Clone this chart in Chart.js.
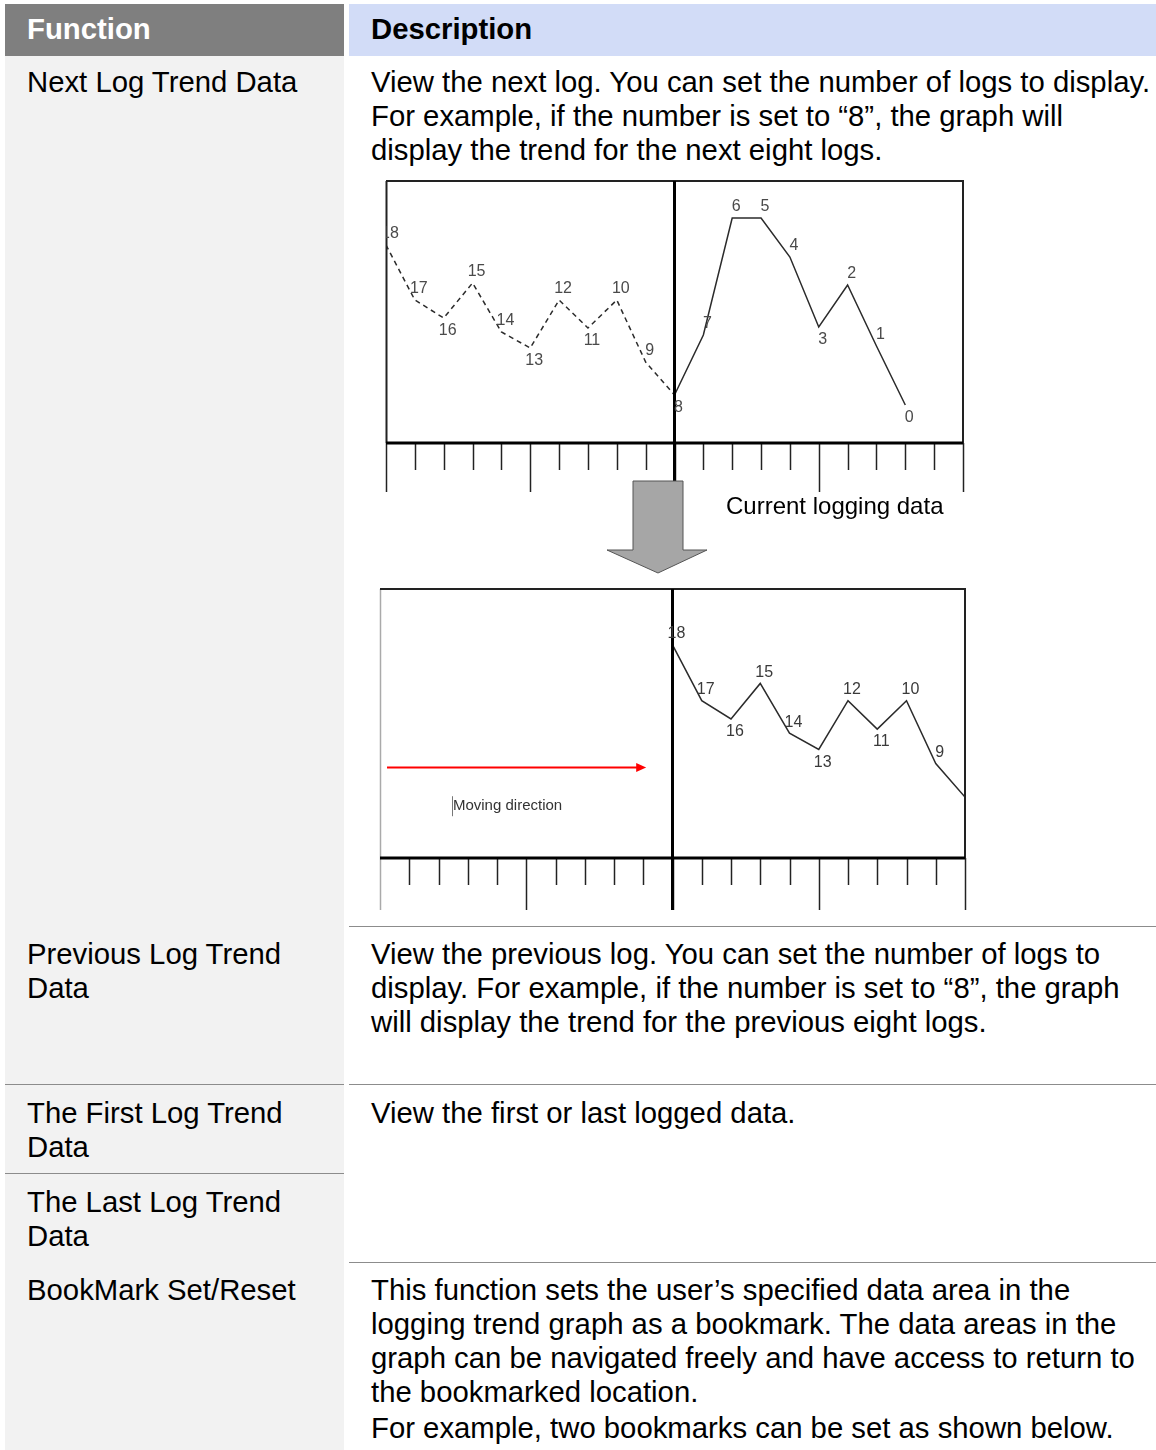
<!DOCTYPE html>
<html>
<head>
<meta charset="utf-8">
<script src="https://cdn.jsdelivr.net/npm/chart.js@4.4.0/dist/chart.umd.min.js"></script>
<style>
  body { margin: 0; width: 1156px; height: 1450px; position: relative; overflow: hidden; background: #fff;
         font-family: "Liberation Sans", Arial, sans-serif; color: #000; }
  .box { position: absolute; }
  .txt { position: absolute; font-size: 29.3px; line-height: 34px; white-space: nowrap; }
  .hline { position: absolute; height: 1px; background: #8c8c8c; }
  canvas { position: absolute; }
</style>
</head>
<body>
<!-- table background -->
<div class="box" style="left:5px;top:4px;width:339px;height:52px;background:#7f7f7f"></div>
<div class="box" style="left:349px;top:4px;width:807px;height:52px;background:#d2dcf7"></div>
<div class="box" style="left:5px;top:56px;width:339px;height:1394px;background:#f2f2f2"></div>

<div class="txt" style="left:27px;top:12px;color:#fff;font-weight:bold">Function</div>
<div class="txt" style="left:371px;top:12px;font-weight:bold">Description</div>

<div class="txt" style="left:27px;top:65px">Next Log Trend Data</div>
<div class="txt" style="left:371px;top:65px">View the next log. You can set the number of logs to display.<br>For example, if the number is set to “8”, the graph will<br>display the trend for the next eight logs.</div>

<div class="hline" style="left:349px;top:926px;width:807px"></div>
<div class="txt" style="left:27px;top:937px">Previous Log Trend<br>Data</div>
<div class="txt" style="left:371px;top:937px">View the previous log. You can set the number of logs to<br>display. For example, if the number is set to “8”, the graph<br>will display the trend for the previous eight logs.</div>

<div class="hline" style="left:5px;top:1084px;width:339px"></div>
<div class="hline" style="left:349px;top:1084px;width:807px"></div>
<div class="txt" style="left:27px;top:1096px">The First Log Trend<br>Data</div>
<div class="txt" style="left:371px;top:1096px">View the first or last logged data.</div>

<div class="hline" style="left:5px;top:1173px;width:339px"></div>
<div class="txt" style="left:27px;top:1185px">The Last Log Trend<br>Data</div>

<div class="hline" style="left:349px;top:1262px;width:807px"></div>
<div class="txt" style="left:27px;top:1273px">BookMark Set/Reset</div>
<div class="txt" style="left:371px;top:1273px">This function sets the user’s specified data area in the<br>logging trend graph as a bookmark. The data areas in the<br>graph can be navigated freely and have access to return to<br>the bookmarked location.</div>
<div class="txt" style="left:371px;top:1411px">For example, two bookmarks can be set as shown below.</div>

<!-- charts -->
<canvas id="chartBefore" width="600" height="330" style="left:376px;top:171px"></canvas>
<canvas id="chartAfter" width="606" height="340" style="left:370px;top:579px"></canvas>

<div class="txt" style="left:726px;top:491px;font-size:24px;line-height:30px">Current logging data</div>
<svg width="1156" height="600" style="position:absolute;left:0;top:0">
  <polygon points="633,481 683,481 683,550 707,550 658,573 607,550 633,550" fill="#a6a6a6" stroke="#555" stroke-width="1"/>
</svg>

<script>
// log numbers, oldest first, and the trend value read for each log
const logNumbers = [18, 17, 16, 15, 14, 13, 12, 11, 10, 9, 8, 7, 6, 5, 4, 3, 2, 1, 0];
const logValues = [198, 143, 125, 160, 111, 95, 143, 115, 143, 81, 48, 108, 225, 225, 186, 116, 158, 97, 38];
const currentLog = 8;   // first log of the current page
const rulerSteps = 20;  // divisions on the ruler
const majorEvery = 5;

const curIdx = logNumbers.indexOf(currentLog);

// build {x, y} points for logs from..to, shifted on the ruler
function logPoints(from, to, shift) {
  const pts = [];
  for (let i = from; i <= to; i++) {
    const v = logValues[i];
    const prev = logValues[i - 1];
    const next = logValues[i + 1];
    const dip = (prev === undefined || v < prev) && (next === undefined || v < next);
    pts.push({ x: i + shift, y: v, log: logNumbers[i], dip: dip });
  }
  return pts;
}

// frame + ruler ticks under the graph
const rulerPlugin = {
  id: 'ruler',
  afterDatasetsDraw(chart, args, opts) {
    const { ctx, chartArea: a, scales: { x } } = chart;
    ctx.save();
    ctx.lineCap = 'butt';
    // left border
    ctx.strokeStyle = opts.leftColor || '#222';
    ctx.lineWidth = opts.leftColor ? 1.5 : 2;
    ctx.beginPath();
    ctx.moveTo(a.left + 0.5, a.top);
    ctx.lineTo(a.left + 0.5, a.bottom);
    ctx.stroke();
    // ticks
    for (let i = 0; i <= rulerSteps; i++) {
      const px = Math.round(x.getPixelForValue(i)) + 0.5;
      const len = i % majorEvery === 0 ? opts.majorLen : opts.minorLen;
      ctx.strokeStyle = (i === 0 && opts.leftColor) ? opts.leftColor : '#222';
      ctx.lineWidth = 1.5;
      ctx.beginPath();
      ctx.moveTo(px, a.bottom);
      ctx.lineTo(px, a.bottom + len);
      ctx.stroke();
    }
    ctx.strokeStyle = '#222';
    // top / right border
    ctx.lineWidth = 2;
    ctx.beginPath();
    ctx.moveTo(a.left, a.top);
    ctx.lineTo(a.right, a.top);
    ctx.lineTo(a.right, a.bottom);
    ctx.stroke();
    // base line
    ctx.strokeStyle = '#000';
    ctx.lineWidth = 3;
    ctx.beginPath();
    ctx.moveTo(a.left, a.bottom);
    ctx.lineTo(a.right, a.bottom);
    ctx.stroke();
    // divider between previous and current page
    const dx = x.getPixelForValue(opts.divider);
    ctx.beginPath();
    ctx.moveTo(dx, a.top);
    ctx.lineTo(dx, a.bottom + opts.majorLen);
    ctx.stroke();
    ctx.restore();
  }
};

// log number next to each point
const labelPlugin = {
  id: 'logLabels',
  afterDatasetsDraw(chart, args, opts) {
    const { ctx, chartArea: a } = chart;
    const done = new Set();
    ctx.save();
    ctx.beginPath();
    ctx.rect(a.left, a.top - 20, a.right - a.left, a.bottom - a.top + 20);
    ctx.clip();
    ctx.font = '16px "Liberation Sans", Arial, sans-serif';
    ctx.fillStyle = opts.color;
    ctx.textAlign = 'center';
    ctx.textBaseline = 'middle';
    chart.data.datasets.forEach((ds, d) => {
      chart.getDatasetMeta(d).data.forEach((pt, i) => {
        const raw = ds.data[i];
        if (done.has(raw.log)) return;
        done.add(raw.log);
        const ty = raw.dip ? pt.y + 13 : pt.y - 11;
        ctx.fillText(String(raw.log), pt.x + 4, ty);
      });
    });
    ctx.restore();
  }
};

// red "moving direction" arrow
const movePlugin = {
  id: 'moveArrow',
  afterDatasetsDraw(chart, args, opts) {
    if (!opts.show) return;
    const { ctx, scales: { x, y } } = chart;
    const x0 = x.getPixelForValue(opts.from);
    const x1 = x.getPixelForValue(opts.to);
    const yy = Math.round(y.getPixelForValue(opts.level)) + 0.5;
    ctx.save();
    ctx.strokeStyle = '#ff0000';
    ctx.fillStyle = '#ff0000';
    ctx.lineWidth = 2;
    ctx.beginPath();
    ctx.moveTo(x0, yy);
    ctx.lineTo(x1 - 9, yy);
    ctx.stroke();
    ctx.beginPath();
    ctx.moveTo(x1, yy);
    ctx.lineTo(x1 - 10, yy - 4.5);
    ctx.lineTo(x1 - 10, yy + 4.5);
    ctx.closePath();
    ctx.fill();
    const tx = x.getPixelForValue(opts.textAt);
    const ty = y.getPixelForValue(opts.textLevel);
    ctx.font = '15px "Liberation Sans", Arial, sans-serif';
    ctx.fillStyle = '#333';
    ctx.textBaseline = 'middle';
    ctx.fillText(opts.text, tx + 1, ty);
    ctx.strokeStyle = '#777';
    ctx.lineWidth = 1;
    ctx.beginPath();
    ctx.moveTo(Math.round(tx) + 0.5, ty - 10);
    ctx.lineTo(Math.round(tx) + 0.5, ty + 10);
    ctx.stroke();
    ctx.restore();
  }
};

function baseOptions(pad, yMin, yMax, opts) {
  return {
    responsive: false,
    animation: false,
    events: [],
    layout: { padding: pad },
    scales: {
      x: { type: 'linear', min: 0, max: rulerSteps, display: false },
      y: { min: yMin, max: yMax, display: false }
    },
    plugins: Object.assign({ legend: { display: false }, tooltip: { enabled: false } }, opts)
  };
}

const lineStyle = { borderColor: '#2b2b2b', borderWidth: 1.5, pointRadius: 0, tension: 0, fill: false };

// before: previous logs (dashed) + current page (solid)
new Chart(document.getElementById('chartBefore'), {
  type: 'line',
  data: {
    datasets: [
      Object.assign({ data: logPoints(0, curIdx, 0), borderDash: [5, 4] }, lineStyle),
      Object.assign({ data: logPoints(curIdx, logNumbers.length - 1, 0) }, lineStyle)
    ]
  },
  options: baseOptions({ left: 10, top: 10, right: 13, bottom: 58 }, 0, 262, {
    ruler: { divider: curIdx, minorLen: 27, majorLen: 49 },
    logLabels: { color: '#4a4a4a' },
    moveArrow: { show: false }
  }),
  plugins: [rulerPlugin, labelPlugin, movePlugin]
});

// after: the previous logs moved into the current page
new Chart(document.getElementById('chartAfter'), {
  type: 'line',
  data: {
    datasets: [
      Object.assign({ data: logPoints(0, curIdx, rulerSteps - curIdx) }, lineStyle)
    ]
  },
  options: baseOptions({ left: 10, top: 10, right: 11, bottom: 61 }, -12, 253, {
    ruler: { divider: rulerSteps - curIdx, minorLen: 27, majorLen: 52, leftColor: '#aaa' },
    logLabels: { color: '#3a3a3a' },
    moveArrow: { show: true, from: 0.24, to: 9.1, level: 77.5, text: 'Moving direction', textAt: 2.46, textLevel: 39 }
  }),
  plugins: [rulerPlugin, labelPlugin, movePlugin]
});
</script>
</body>
</html>
